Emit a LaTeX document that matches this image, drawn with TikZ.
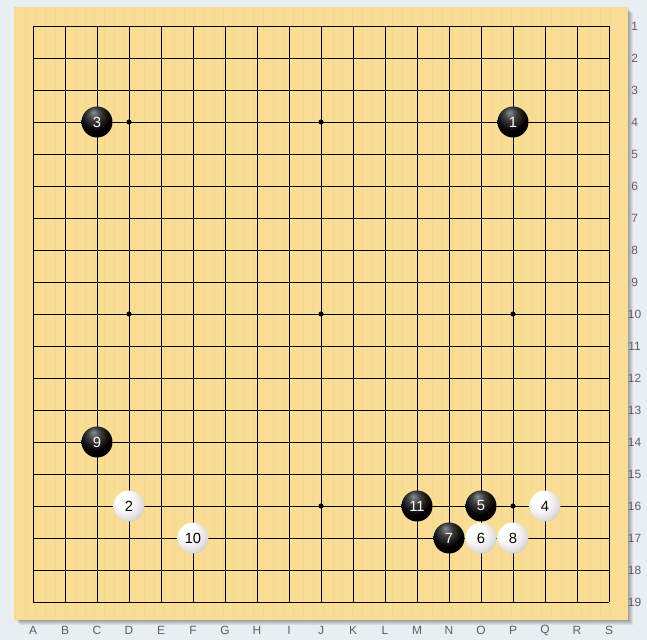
\documentclass[tikz,border=0pt]{standalone}
\usepackage{fontspec}
\setmainfont{Liberation Sans}
\definecolor{paper}{RGB}{233,238,243}
\definecolor{wood}{RGB}{249,221,148}
\definecolor{grain}{RGB}{238,205,128}
\definecolor{lbl}{RGB}{95,95,95}
\pgfdeclareradialshading{whitestoneshade}{\pgfpoint{-12bp}{12bp}}{color(0bp)=(white); color(14bp)=(white); color(30bp)=(black!15); color(46bp)=(black!45); color(60bp)=(black!55)}
\pgfdeclareradialshading{blackstoneshade}{\pgfpoint{-6bp}{16bp}}{color(0bp)=(black!45); color(10bp)=(black!75); color(24bp)=(black); color(60bp)=(black)}
\tikzset{
  stone/.style={circle, inner sep=0pt, minimum size=0.775cm, font=\fontsize{10.5}{11}\selectfont},
  blackstone/.style={stone, shading=blackstoneshade, text=white},
  whitestone/.style={stone, shading=whitestoneshade, text=black},
  coordlabel/.style={text=lbl, font=\fontsize{8.5}{9}\selectfont},
  hoshi/.style={circle, fill=black, inner sep=0pt, minimum size=0.13cm}
}
\begin{document}
\begin{tikzpicture}[x=0.8cm, y=0.8cm]
  \useasboundingbox (-1.03125,0.8125) rectangle (19.1875,-19.1875);
  \fill[paper] (-1.03125,0.8125) rectangle (19.1875,-19.1875);
  % board and its shadow
  \foreach \k in {1,...,5}
    \fill[black, opacity=0.07] (-0.594+0.04*\k,0.594-0.04*\k) rectangle (18.594+0.03*\k,-18.5625-0.03*\k);
  \fill[wood] (-0.594,0.594) rectangle (18.594,-18.5625);
  \foreach \g in {0,...,60}
    \draw[grain, opacity=0.35, line width=0.4pt] (-0.55+0.31*\g,0.594) -- (-0.55+0.31*\g,-18.5625);
  % grid
  \foreach \i in {0,...,18} {
    \draw[line width=0.6pt] (\i,0) -- (\i,-18);
    \draw[line width=0.6pt] (0,-\i) -- (18,-\i);
  }
  \foreach \x in {3,9,15}
    \foreach \y in {3,9,15}
      \node[hoshi] (h\x-\y) at (\x,-\y) {};
  % coordinates
  \foreach \c [count=\i from 0] in {A,B,C,D,E,F,G,H,I,J,K,L,M,N,O,P,Q,R,S}
    \node[coordlabel] (col\c) at (\i,-18.875) {\c};
  \foreach \r in {1,...,19}
    \node[coordlabel] (row\r) at (18.8,1-\r) {\r};
  % moves
  \node[blackstone] (m1)  at (15,-3)  {1};
  \node[whitestone] (m2)  at (3,-15)  {2};
  \node[blackstone] (m3)  at (2,-3)   {3};
  \node[whitestone] (m4)  at (16,-15) {4};
  \node[blackstone] (m5)  at (14,-15) {5};
  \node[whitestone] (m6)  at (14,-16) {6};
  \node[blackstone] (m7)  at (13,-16) {7};
  \node[whitestone] (m8)  at (15,-16) {8};
  \node[blackstone] (m9)  at (2,-13)  {9};
  \node[whitestone] (m10) at (5,-16)  {10};
  \node[blackstone] (m11) at (12,-15) {11};
\end{tikzpicture}
\end{document}
